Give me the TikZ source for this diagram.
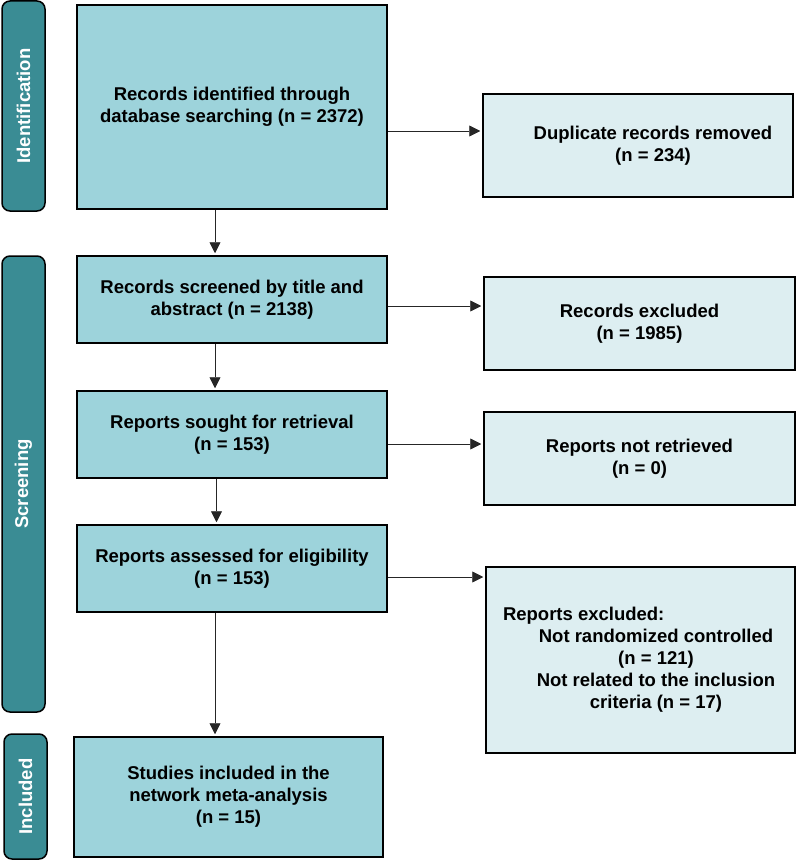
\documentclass[tikz,border=0pt]{standalone}
\usepackage{fontspec}
\setmainfont{Liberation Sans}
\usetikzlibrary{arrows.meta}

\definecolor{tabteal}{HTML}{3A8C94}
\definecolor{mainblue}{HTML}{9DD3DB}
\definecolor{paleblue}{HTML}{DDEEF1}

\tikzset{
	stage/.style={draw=black, line width=1.5pt, fill=tabteal, rounded corners=8pt, rotate=90, text=white, inner sep=0pt},
	mainbox/.style={draw=black, line width=1.5pt, fill=mainblue, align=center, inner sep=0pt},
	sidebox/.style={draw=black, line width=1.5pt, fill=paleblue, align=center, inner sep=0pt},
	arr/.style={draw=black!85, line width=0.8pt, -{Triangle[length=11pt,width=11pt]}, shorten >=2pt}
}

\begin{document}
\begin{tikzpicture}[x=1pt, y=-1pt, font=\fontsize{18.5}{22}\selectfont\bfseries]
	\useasboundingbox (0,0) rectangle (797,861);
	% stage tabs
	\node[stage, minimum width=210, minimum height=43] (ident) at (23.5,106) {Identification};
	\node[stage, minimum width=456, minimum height=43] (screen) at (23.5,484) {Screening};
	\node[stage, minimum width=125, minimum height=43] (incl) at (25.5,796.5) {Included};
	% main column
	\node[mainbox, minimum width=310, minimum height=204] (found) at (232,107) {Records identified through\\database searching (n = 2372)};
	\node[mainbox, minimum width=310, minimum height=87] (screened) at (232,299.5) {Records screened by title and\\abstract (n = 2138)};
	\node[mainbox, minimum width=310, minimum height=87] (sought) at (232,434.5) {Reports sought for retrieval\\(n = 153)};
	\node[mainbox, minimum width=310, minimum height=87] (assessed) at (232,568.5) {Reports assessed for eligibility\\(n = 153)};
	\node[mainbox, minimum width=309, minimum height=120] (studies) at (228.5,797) {Studies included in the\\network meta-analysis\\(n = 15)};
	% right column
	\node[sidebox, minimum width=310, minimum height=103] (dupl) at (638,145.5) {\hspace*{30pt}Duplicate records removed\\\hspace*{30pt}(n = 234)};
	\node[sidebox, minimum width=311, minimum height=93] (excl) at (639.5,323.5) {Records excluded\\(n = 1985)};
	\node[sidebox, minimum width=311, minimum height=93] (notret) at (639.5,458.5) {Reports not retrieved\\(n = 0)};
	\node[sidebox, minimum width=309, minimum height=186] (rexcl) at (640.5,660) {\makebox[0pt]{\hspace{31pt}\parbox{306pt}{Reports excluded:\par\centering Not randomized controlled\\(n = 121)\\Not related to the inclusion\\criteria (n = 17)}}};
	% arrows down
	\draw[arr] (found.south -| 215,0) -- (screened.north -| 215,0);
	\draw[arr] (screened.south -| 215,0) -- (sought.north -| 215,0);
	\draw[arr] (sought.south -| 216.5,0) -- (assessed.north -| 216.5,0);
	\draw[arr] (assessed.south -| 215,0) -- (studies.north -| 215,0);
	% arrows right
	\draw[arr] (found.east |- 0,131) -- (dupl.west |- 0,131);
	\draw[arr] (screened.east |- 0,306) -- (excl.west |- 0,306);
	\draw[arr] (sought.east |- 0,444) -- (notret.west |- 0,444);
	\draw[arr] (assessed.east |- 0,577) -- (rexcl.west |- 0,577);
\end{tikzpicture}
\end{document}
